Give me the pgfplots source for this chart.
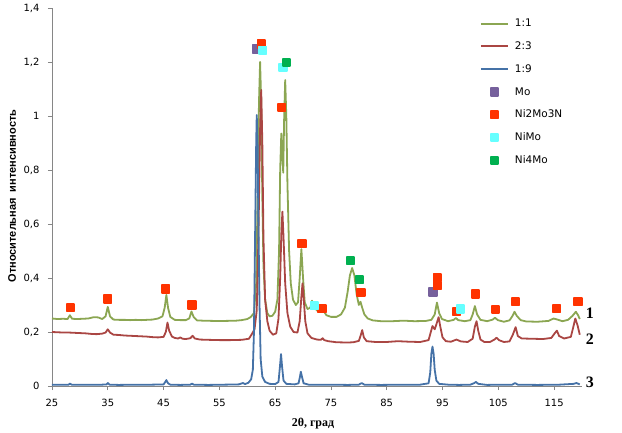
\documentclass[border=0pt]{standalone}
\usepackage{pgfplots}
\pgfplotsset{compat=1.18}
\usepackage{fontspec}
\setmainfont{DejaVu Sans}
\newfontfamily\lsans{Liberation Sans}
\newfontfamily\lserif{Liberation Serif}
\definecolor{cG}{HTML}{8BA652}
\definecolor{cR}{HTML}{AA4643}
\definecolor{cB}{HTML}{4572A7}
\definecolor{cMo}{HTML}{76609C}
\definecolor{cNMN}{HTML}{FF3300}
\definecolor{cNiMo}{HTML}{66FFFF}
\definecolor{cN4}{HTML}{00B050}
\definecolor{axgray}{HTML}{868686}
\pgfplotsset{
  lineleg/.style={legend image code/.code={\draw[##1, line width=2bp] (0bp,0bp) -- (27bp,0bp);}},
  markleg/.style={legend image code/.code={\path[draw=none,fill=none] (0bp,-3bp) rectangle (23bp,3bp); \draw[##1] plot coordinates {(13.5bp,0bp)};}},
  mk/.style={only marks, mark=square*, mark size=3.7bp, color=#1, mark options={draw=none, fill=#1}, markleg},
}
\begin{document}
\begin{tikzpicture}
\useasboundingbox (-52bp,-47bp) rectangle (570bp,386bp);
\begin{axis}[
  scale only axis, width=530bp, height=378bp,
  xmin=25, xmax=120, ymin=0, ymax=1.4,
  axis lines*=left,
  axis line style={draw=axgray, line width=0.75bp},
  xtick={25,35,45,55,65,75,85,95,105,115},
  ytick={0,0.2,0.4,0.6,0.8,1,1.2,1.4},
  tick align=outside, major tick length=4bp,
  tick style={draw=axgray, line width=0.75bp},
  tick label style={font=\fontsize{10}{12}\selectfont},
  yticklabel style={xshift=-5bp},
  xticklabel style={yshift=-6bp},
  /pgf/number format/use comma,
  /pgf/number format/assume math mode=true,
  xlabel={2θ, град},
  xlabel style={at={(axis description cs:0.4925,-0.1005)}, anchor=center, font=\lserif\bfseries\fontsize{12}{14}\selectfont},
  ylabel={Относительная\ \ интенсивность},
  ylabel style={at={(axis description cs:-0.0755,0.5026)}, anchor=center, font=\lsans\bfseries\fontsize{11}{13}\selectfont},
  clip=false,
  legend cell align=left,
  legend style={at={(axis description cs:0.8075,0.9717)}, anchor=north west, draw=none, fill=none, inner sep=0pt, outer sep=0pt,
    font=\fontsize{10.5}{12}\selectfont, row sep=12.8bp,
    nodes={inner sep=0pt, text height=8bp, text depth=2bp},
    /tikz/every odd column/.append style={column sep=6bp}},
  every axis plot post/.append style={line width=1.8bp, line join=round},
]
% 1:1
\addplot[cG, no marks, lineleg] coordinates {
(25,0.250) (26,0.248) (27,0.249) (27.8,0.248) (28.2,0.262) (28.6,0.249) (29.5,0.248) (30.5,0.249) (31.5,0.250) (32.5,0.255) (33.3,0.254) (34,0.248) (34.6,0.258) (35.0,0.293) (35.4,0.258) (36,0.246) (37,0.245) (38,0.245) (39,0.244) (40,0.245) (41,0.244) (42,0.245) (43,0.246) (44,0.250) (44.8,0.258) (45.2,0.29) (45.5,0.337) (45.8,0.29) (46.2,0.256) (47,0.245) (48,0.244) (49,0.244) (49.6,0.25) (50.0,0.276) (50.4,0.255) (51,0.243) (52,0.242) (54,0.241) (56,0.241) (58,0.242) (59,0.244) (60,0.248) (60.6,0.255) (61.2,0.27) (61.6,0.38) (61.9,0.75) (62.1,1.05) (62.3,1.2) (62.5,1.05) (62.7,0.7) (62.9,0.45) (63.2,0.32) (63.6,0.27) (64,0.258) (64.5,0.26) (65,0.275) (65.4,0.32) (65.7,0.5) (65.9,0.8) (66.1,0.935) (66.3,0.85) (66.45,0.79) (66.6,0.98) (66.8,1.133) (67.0,1.0) (67.2,0.75) (67.5,0.5) (67.8,0.38) (68.2,0.32) (68.7,0.3) (69.1,0.31) (69.4,0.4) (69.7,0.507) (70.0,0.4) (70.3,0.31) (70.8,0.285) (71.3,0.29) (71.6,0.316) (72.0,0.29) (72.6,0.278) (73.0,0.285) (73.3,0.3) (73.6,0.28) (74.2,0.262) (75,0.256) (76,0.256) (76.8,0.265) (77.5,0.29) (78,0.35) (78.4,0.41) (78.8,0.437) (79.2,0.41) (79.6,0.34) (80.0,0.3) (80.3,0.312) (80.6,0.29) (81.0,0.265) (81.6,0.25) (82.5,0.243) (84,0.24) (86,0.24) (88,0.242) (90,0.24) (92,0.241) (93,0.245) (93.6,0.265) (94.0,0.309) (94.4,0.27) (94.9,0.248) (96,0.24) (97,0.245) (97.4,0.252) (97.8,0.244) (99,0.24) (100,0.244) (100.4,0.265) (100.8,0.296) (101.2,0.265) (101.8,0.245) (103,0.24) (104,0.246) (104.4,0.253) (104.9,0.244) (106,0.238) (107,0.243) (107.5,0.258) (107.9,0.275) (108.3,0.26) (109,0.244) (110,0.239) (112,0.238) (114,0.241) (114.9,0.25) (115.6,0.246) (116.5,0.24) (117.5,0.245) (118.3,0.26) (118.9,0.275) (119.3,0.262) (119.6,0.248)
};
\addlegendentry{1:1}
% 2:3
\addplot[cR, no marks, lineleg] coordinates {
(25,0.200) (26,0.199) (27,0.198) (28,0.198) (29,0.197) (30,0.196) (31,0.195) (32,0.193) (33,0.192) (34,0.194) (34.6,0.198) (35.0,0.21) (35.4,0.198) (36,0.19) (37,0.189) (38,0.187) (39,0.186) (40,0.185) (41,0.184) (42,0.183) (43,0.181) (44,0.18) (45,0.182) (45.4,0.2) (45.7,0.235) (46.0,0.205) (46.5,0.183) (47,0.178) (47.6,0.176) (48.0,0.18) (48.4,0.175) (49,0.174) (49.8,0.177) (50.2,0.186) (50.6,0.176) (51.5,0.172) (53,0.171) (55,0.17) (57,0.17) (59,0.171) (60.3,0.175) (60.9,0.195) (61.3,0.21) (61.7,0.28) (62.0,0.55) (62.3,0.95) (62.5,1.096) (62.7,0.9) (62.9,0.55) (63.2,0.32) (63.6,0.24) (64,0.205) (64.6,0.19) (65.2,0.195) (65.6,0.25) (65.9,0.4) (66.1,0.56) (66.3,0.646) (66.5,0.55) (66.8,0.38) (67.2,0.27) (67.7,0.22) (68.3,0.2) (69.0,0.198) (69.4,0.24) (69.7,0.33) (69.9,0.38) (70.1,0.33) (70.4,0.24) (70.8,0.195) (71.5,0.178) (72.5,0.172) (73.2,0.171) (73.5,0.177) (73.8,0.17) (74.5,0.166) (76,0.162) (78,0.161) (79,0.162) (80,0.167) (80.3,0.185) (80.6,0.207) (80.9,0.18) (81.4,0.166) (83,0.163) (85,0.163) (87,0.166) (89,0.164) (91,0.163) (92.5,0.17) (92.9,0.2) (93.2,0.222) (93.6,0.21) (94.0,0.235) (94.3,0.255) (94.6,0.22) (95.0,0.18) (95.6,0.166) (96.5,0.164) (97.5,0.172) (98.3,0.165) (99.5,0.163) (100.4,0.175) (100.8,0.22) (101.1,0.24) (101.4,0.205) (101.8,0.172) (102.5,0.163) (103.5,0.163) (104.3,0.172) (104.7,0.179) (105.1,0.17) (106,0.163) (107,0.165) (107.6,0.19) (108.1,0.218) (108.5,0.185) (109.2,0.176) (111,0.175) (113,0.174) (114.5,0.178) (115.1,0.195) (115.5,0.205) (115.9,0.185) (116.8,0.176) (118,0.182) (118.4,0.215) (118.8,0.25) (119.2,0.225) (119.6,0.19)
};
\addlegendentry{2:3}
% 1:9
\addplot[cB, no marks, lineleg] coordinates {
(25,0.005) (27,0.005) (28.0,0.005) (28.2,0.009) (28.5,0.005) (30,0.005) (32,0.005) (34,0.005) (34.8,0.006) (35.0,0.011) (35.3,0.005) (37,0.004) (40,0.005) (43,0.005) (45.0,0.006) (45.3,0.015) (45.5,0.022) (45.8,0.01) (46.2,0.005) (48,0.004) (49.8,0.005) (50.1,0.009) (50.4,0.005) (53,0.004) (56,0.005) (58.5,0.006) (59.2,0.011) (59.6,0.007) (60.2,0.012) (60.7,0.025) (61.0,0.06) (61.2,0.2) (61.4,0.55) (61.6,0.9) (61.7,1.004) (61.85,0.9) (62.0,0.6) (62.2,0.3) (62.4,0.1) (62.7,0.035) (63.2,0.015) (64,0.008) (65,0.007) (65.6,0.015) (65.85,0.07) (66.05,0.118) (66.25,0.07) (66.5,0.02) (67,0.008) (68.5,0.006) (69.2,0.01) (69.45,0.035) (69.6,0.053) (69.8,0.035) (70.1,0.01) (71,0.005) (73,0.005) (75,0.005) (78,0.004) (80,0.005) (80.5,0.011) (81,0.005) (84,0.004) (88,0.005) (91,0.005) (92.5,0.01) (92.8,0.05) (93.0,0.12) (93.2,0.146) (93.4,0.12) (93.6,0.06) (93.9,0.02) (94.4,0.008) (96,0.005) (98,0.004) (100,0.005) (100.6,0.01) (101,0.015) (101.4,0.008) (103,0.004) (105,0.005) (107.5,0.005) (108,0.011) (108.5,0.005) (112,0.004) (116,0.005) (118.5,0.008) (119,0.011) (119.6,0.006)
};
\addlegendentry{1:9}
% phase markers
\addplot[mk=cMo] coordinates {(61.6,1.248) (93.3,0.348)};
\addlegendentry{Mo}
\addplot[mk=cNMN] coordinates {(28.35,0.29) (35.0,0.322) (45.4,0.359) (50.1,0.30) (62.5,1.267) (66.2,1.031) (69.8,0.527) (73.4,0.286) (80.4,0.346) (94.06,0.401) (94.06,0.371) (97.5,0.275) (100.9,0.341) (104.5,0.284) (108.1,0.312) (115.5,0.286) (119.3,0.312)};
\addlegendentry{Ni2Mo3N}
\addplot[mk=cNiMo] coordinates {(62.8,1.244) (66.4,1.179) (72.0,0.297) (98.25,0.285)};
\addlegendentry{NiMo}
\addplot[mk=cN4] coordinates {(67.0,1.198) (78.5,0.464) (80.1,0.393)};
\addlegendentry{Ni4Mo}
\node[font=\lserif\bfseries\fontsize{16}{16}\selectfont] at (axis cs:121.4,0.271) {1};
\node[font=\lserif\bfseries\fontsize{16}{16}\selectfont] at (axis cs:121.4,0.174) {2};
\node[font=\lserif\bfseries\fontsize{16}{16}\selectfont] at (axis cs:121.4,0.012) {3};
\end{axis}
\end{tikzpicture}
\end{document}
